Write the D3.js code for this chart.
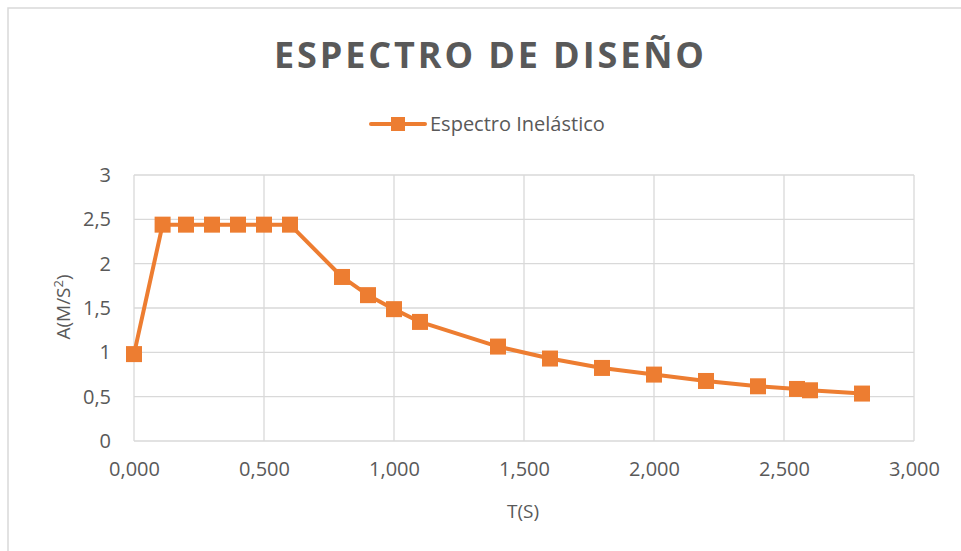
<!DOCTYPE html>
<html>
<head>
<meta charset="utf-8">
<script src="https://cdn.jsdelivr.net/npm/d3@7"></script>
<style>
  body { margin: 0; background: #fff; }
  text { font-family: "Open Sans", "Liberation Sans", sans-serif; fill: #595959; }
</style>
</head>
<body>
<div id="chart"></div>
<script>
// periodo T(s) y aceleracion A(m/s2)
const periods = [0, 0.11, 0.2, 0.3, 0.4, 0.5, 0.6, 0.8, 0.9, 1.0, 1.1, 1.4, 1.6, 1.8, 2.0, 2.2, 2.4, 2.55, 2.6, 2.8]
const accel = [0.98, 2.44, 2.44, 2.44, 2.44, 2.44, 2.44, 1.85, 1.645, 1.487, 1.343, 1.065, 0.93, 0.824, 0.749, 0.677, 0.617, 0.587, 0.572, 0.535]
const xTicks = [0, 0.5, 1, 1.5, 2, 2.5, 3]
const yTicks = [0, 0.5, 1, 1.5, 2, 2.5, 3]
const seriesName = "Espectro Inelástico"

const W = 961, H = 551
const margin = {top: 175, right: 47, bottom: 110, left: 134}
const width = W - margin.left - margin.right,
      height = H - margin.top - margin.bottom
const orange = "#ED7D31"

const fmtX = d => d3.format(".3f")(d).replace(".", ",")
const fmtY = d => String(d).replace(".", ",")

const svg = d3.select("#chart").append("svg")
    .attr("width", W).attr("height", H)

// chart frame
svg.append("rect")
    .attr("x", 8).attr("y", 8).attr("width", W).attr("height", H)
    .attr("fill", "none").attr("stroke", "#d9d9d9").attr("stroke-width", 1.5)

svg.append("text")
    .attr("x", 489).attr("y", 68)
    .attr("text-anchor", "middle")
    .attr("textLength", 430).attr("lengthAdjust", "spacing")
    .style("font-size", "36px").style("font-weight", "bold")
    .text("ESPECTRO DE DISEÑO")

const g = svg.append("g")
    .attr("transform", "translate(" + margin.left + "," + margin.top + ")")

const x = d3.scaleLinear().domain([0, 3]).range([0, width])
const y = d3.scaleLinear().domain([0, 3]).range([height, 0])

// grid
g.selectAll(".vgrid").data(xTicks).enter().append("line")
    .attr("x1", d => x(d)).attr("x2", d => x(d))
    .attr("y1", 0).attr("y2", height)
    .attr("stroke", "#d9d9d9").attr("stroke-width", 1.3)
g.selectAll(".hgrid").data(yTicks).enter().append("line")
    .attr("x1", 0).attr("x2", width)
    .attr("y1", d => y(d)).attr("y2", d => y(d))
    .attr("stroke", "#d9d9d9").attr("stroke-width", 1.3)

// axes (labels only)
const xAxis = g.append("g").attr("transform", "translate(0," + height + ")")
    .call(d3.axisBottom(x).tickValues(xTicks).tickFormat(fmtX).tickSize(0).tickPadding(21))
const yAxis = g.append("g")
    .call(d3.axisLeft(y).tickValues(yTicks).tickFormat(fmtY).tickSize(0).tickPadding(23))
xAxis.select(".domain").remove()
yAxis.select(".domain").remove()
g.selectAll(".tick text")
    .attr("fill", "#595959")
    .style("font-size", "20px")
    .style("font-family", "'Open Sans', sans-serif")

g.append("text")
    .attr("x", x(1.5) - 1).attr("y", height + 77)
    .attr("text-anchor", "middle")
    .style("font-size", "19px")
    .text("T(S)")

g.append("text")
    .attr("transform", "translate(" + (63 - margin.left) + "," + (y(1.5) - 1) + ") rotate(-90)")
    .attr("text-anchor", "middle")
    .attr("dy", "0.35em")
    .style("font-size", "19px")
    .html("A(M/S<tspan dy='-7' font-size='13px'>2</tspan><tspan dy='7'>)</tspan>")

// series
const pts = periods.map((t, i) => ({t: t, a: accel[i]}))
g.append("path")
    .datum(pts)
    .attr("fill", "none")
    .attr("stroke", orange)
    .attr("stroke-width", 4)
    .attr("stroke-linejoin", "round")
    .attr("d", d3.line().x(d => x(d.t)).y(d => y(d.a)))

const ms = 16
g.selectAll(".mark").data(pts).enter().append("rect")
    .attr("x", d => x(d.t) - ms / 2)
    .attr("y", d => y(d.a) - ms / 2)
    .attr("width", ms).attr("height", ms)
    .attr("fill", orange)

// legend
const lg = svg.append("g").attr("transform", "translate(371,124)")
lg.append("line").attr("x1", 0).attr("x2", 54).attr("y1", 0).attr("y2", 0)
    .attr("stroke", orange).attr("stroke-width", 4).attr("stroke-linecap", "round")
lg.append("rect").attr("x", 20).attr("y", -7).attr("width", 14).attr("height", 14).attr("fill", orange)
lg.append("text").attr("x", 59).attr("y", 0).attr("dy", "0.35em")
    .style("font-size", "20px")
    .text(seriesName)
</script>
</body>
</html>
